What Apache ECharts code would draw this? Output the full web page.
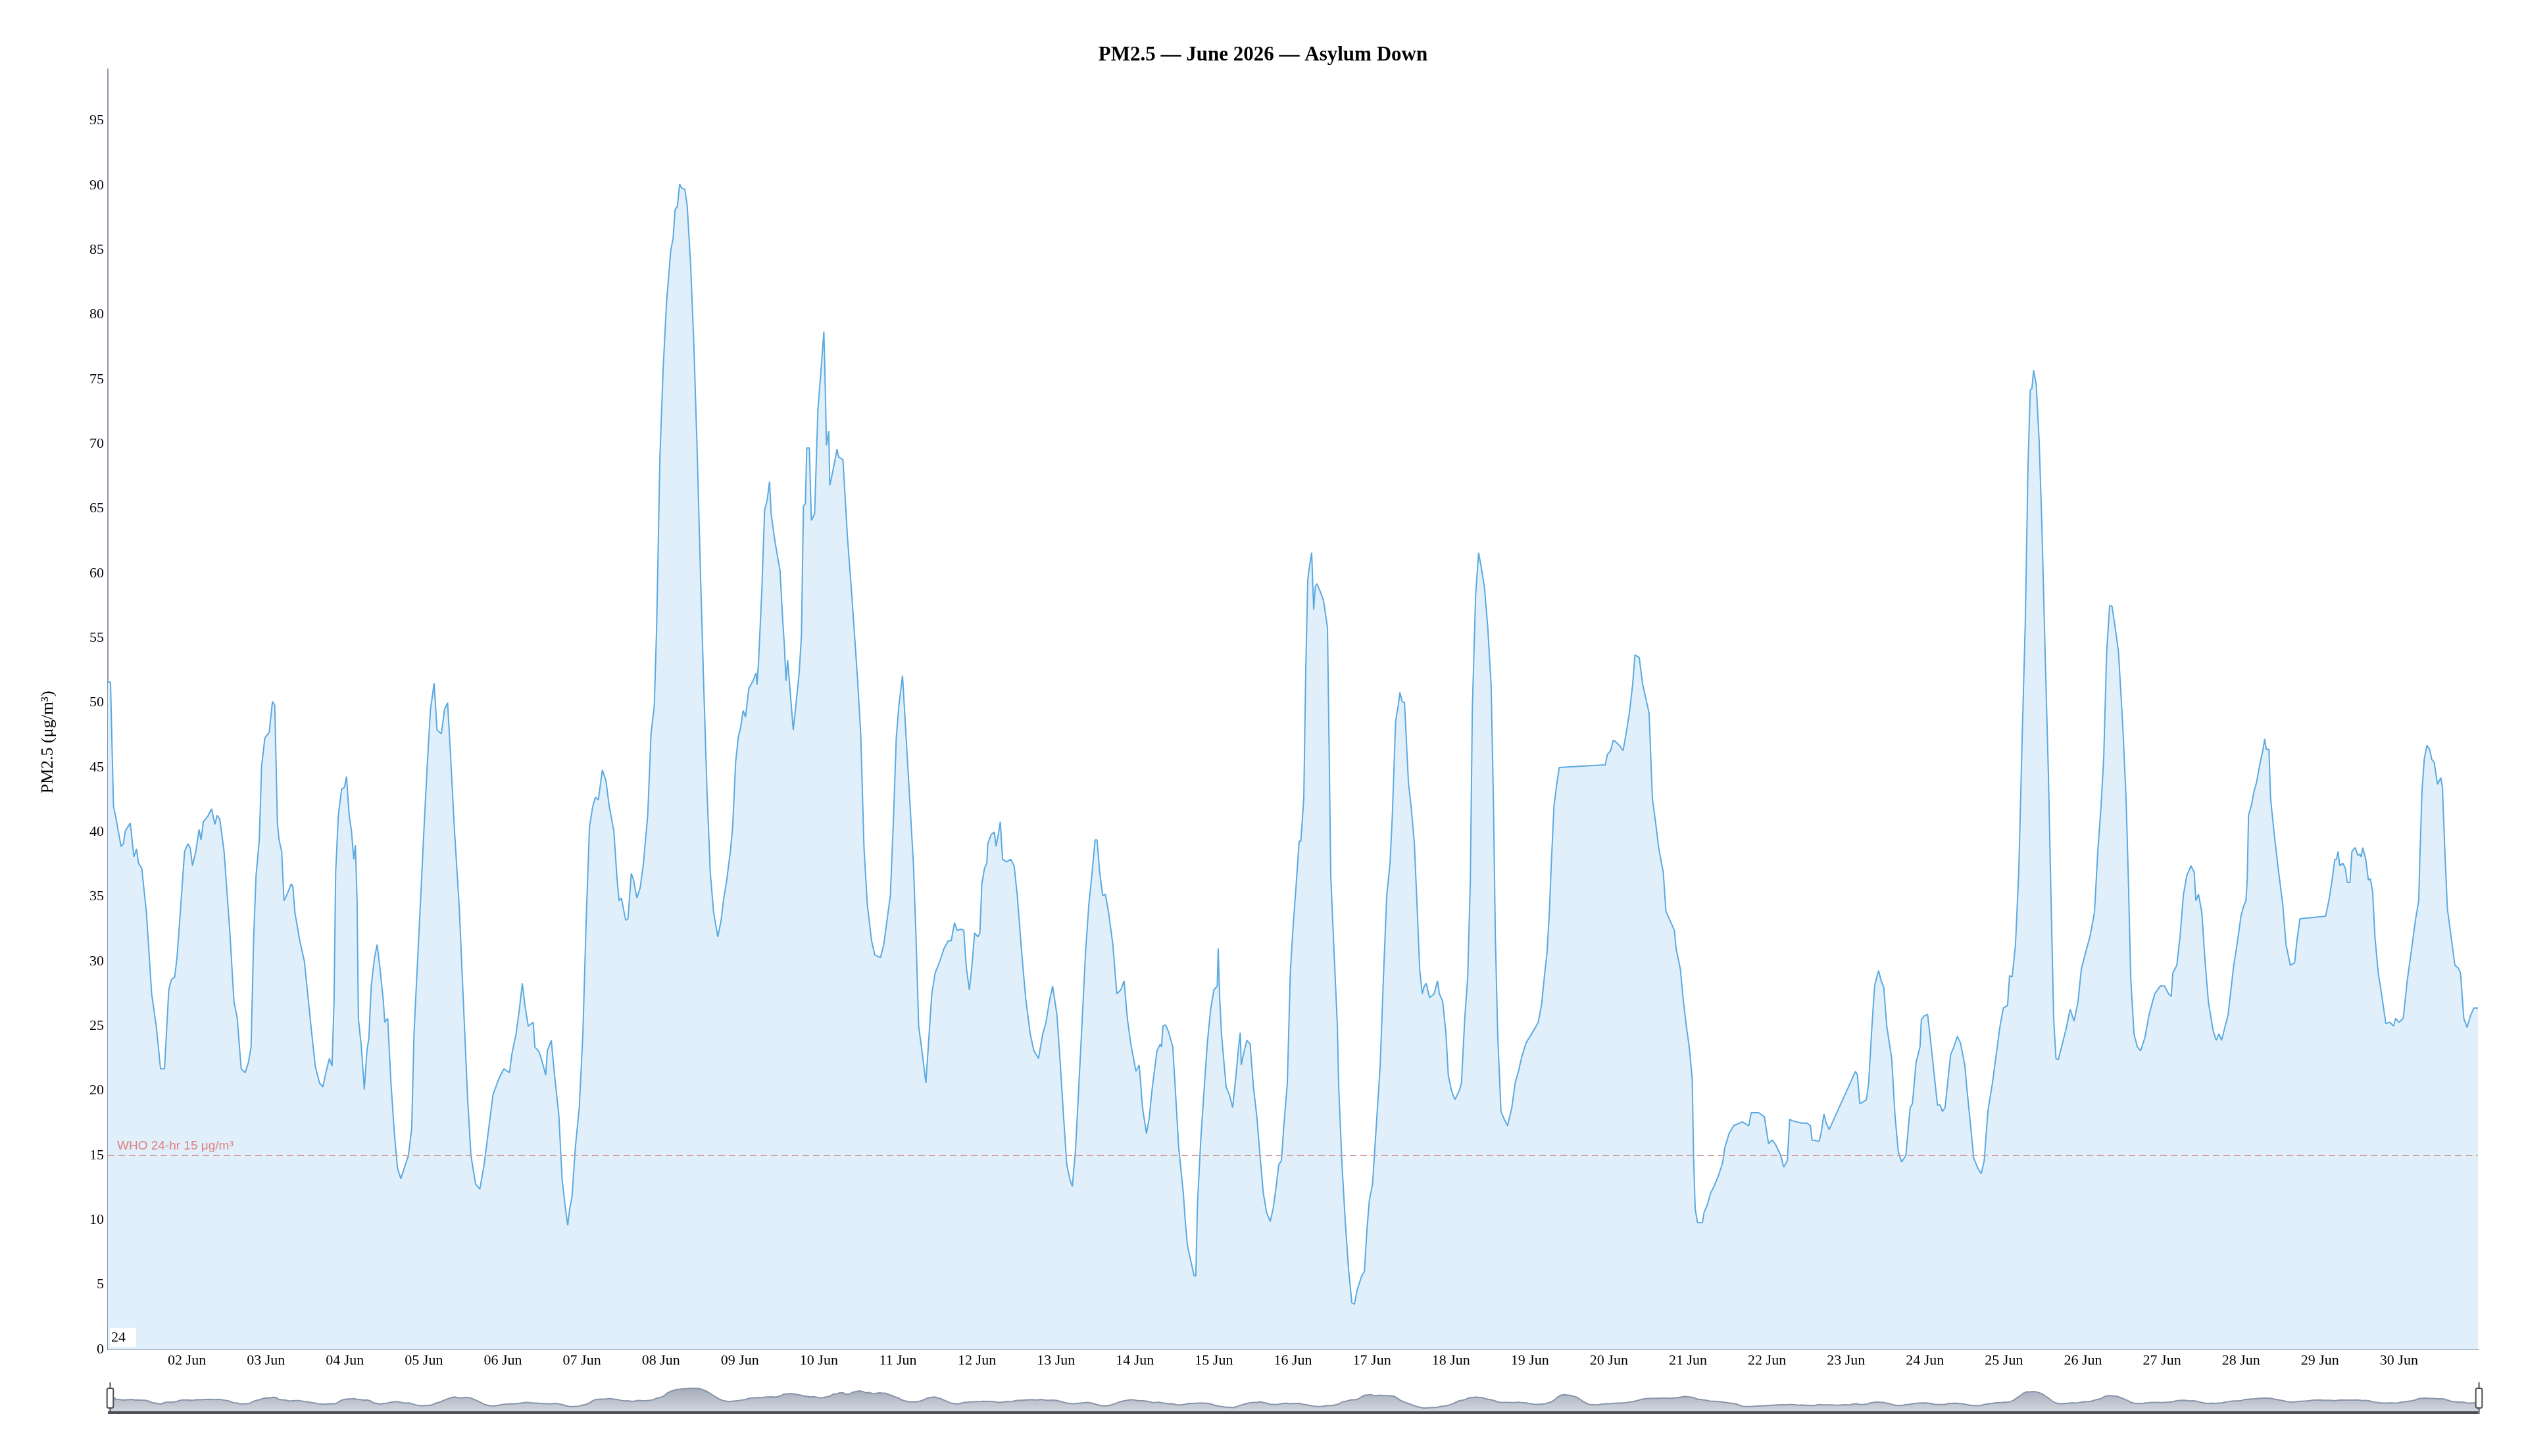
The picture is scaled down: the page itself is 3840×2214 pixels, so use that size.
<!DOCTYPE html>
<html>
<head>
<meta charset="utf-8">
<script src="https://cdn.jsdelivr.net/npm/echarts/dist/echarts.min.js"></script>
<style>html,body{margin:0;padding:0;background:#fff}#chart{width:3840px;height:2214px}</style>
</head>
<body>
<div id="chart"></div>
<script>
// Hour offsets from 01 Jun 00:00 paired with PM2.5 (µg/m³)
const week1 = [[0,51.6],[0.8,51.6],[1.7,42.0],[2.3,41.3],[4,38.9],[4.7,39.1],[5.3,40.1],[6.8,40.7],[7.9,38.1],[8.7,38.7],[9.3,37.6],[10.3,37.2],[11.7,33.8],[13.3,27.5],[14.7,25.0],[16,21.7],[17.2,21.7],[18.5,27.8],[19.3,28.6],[20.3,28.8],[21,30.3],[22,33.8],[23.3,38.5],[24.3,39.1],[25,38.8],[25.7,37.4],[26.7,38.5],[27.7,40.2],[28.3,39.4],[29,40.8],[30.3,41.2],[31.5,41.8],[32.5,40.6],[33.2,41.3],[34,41.0],[35.3,38.5],[36,36.0],[37,32.5],[38.3,26.9],[39.3,25.6],[40.5,21.7],[41.7,21.4],[42.7,22.2],[43.5,23.4],[44.3,31.9],[45,36.6],[46,39.4],[46.7,45.1],[47.7,47.3],[49,47.7],[50,50.1],[50.7,49.8],[51.5,40.7],[52,39.4],[52.8,38.5],[53.5,34.7],[54.3,35.1],[55.7,36.0],[56.2,35.8],[56.8,33.8],[58.3,31.6],[59.7,30.0],[60.7,27.5],[61.7,25.0],[63,21.9],[64.3,20.6],[65.3,20.3],[66.3,21.5],[67.3,22.5],[68.1,21.9],[68.7,26.9],[69.2,36.9],[70,41.3],[71,43.3],[71.9,43.5],[72.5,44.3],[73.3,41.3],[74,40.1],[74.7,37.9],[75.2,39.0],[75.7,34.7],[76.1,25.6],[77,23.4],[77.9,20.1],[78.7,23.1],[79.3,24.1],[80,28.1],[81,30.3],[81.8,31.3],[82.7,29.4],[83.7,26.9],[84.1,25.3],[85,25.6],[86,20.6],[87,16.8],[88,14.0],[89,13.2],[90,14.0],[91.3,15.0],[92.3,17.1],[93,24.4],[93.7,28.1],[94.7,33.2],[96,40.1],[97,45.1],[98,49.5],[99.1,51.5],[100,47.9],[101.3,47.6],[102.3,49.5],[103.2,50.0],[104,46.4],[105.3,40.1],[106.7,34.4],[108,26.9],[109.3,19.3],[110.3,15.0],[111.7,12.8],[113,12.4],[114.3,14.3],[115.7,17.1],[117,19.7],[118.7,20.9],[120.3,21.7],[122,21.4],[122.7,22.8],[124,24.4],[125,26.3],[125.9,28.3],[126.7,26.6],[127.7,25.0],[129.2,25.3],[129.7,23.4],[131,23.0],[132,22.2],[133,21.2],[133.5,23.1],[134.7,23.9],[135.7,21.2],[137,18.1],[138,13.1],[139,10.9],[139.7,9.6],[140.3,10.9],[141,11.8],[142,15.6],[143.2,18.7],[144.3,24.4],[145.3,33.2],[146.3,40.4],[147.3,42.0],[148.1,42.7],[149,42.5],[150.2,44.8],[151.3,44.0],[152.3,42.0],[153.7,40.1],[154.7,36.3],[155.3,34.7],[156,34.9],[157.3,33.2],[158,33.3],[159,36.8],[159.7,36.3],[160.7,34.9],[161.7,35.7],[162.7,37.6],[164,41.3],[165,47.6],[166,49.8],[166.7,55.8]];
const week2 = [[167.7,69.0],[168.7,75.9],[169.7,80.9],[171,85.0],[171.7,85.9],[172.3,88.1],[173,88.4],[173.7,90.1],[174.3,89.8],[175.3,89.7],[176,88.4],[177,84.0],[178,77.8],[179,69.6],[180,60.2],[181,51.4],[182,43.2],[183,36.9],[184,33.8],[185.3,31.9],[186.3,33.2],[187,34.7],[188,36.3],[189.1,38.5],[189.8,40.4],[190.7,45.4],[191.5,47.3],[192.3,48.2],[193,49.4],[193.7,48.9],[194.7,51.1],[196,51.7],[196.9,52.3],[197.2,51.4],[197.7,53.3],[198.7,58.9],[199.5,64.9],[200.3,65.7],[201,67.1],[201.5,64.6],[202.7,62.4],[204.2,60.2],[205,56.4],[205.5,54.5],[206,51.7],[206.5,53.3],[207.3,50.8],[208.2,47.9],[209,49.8],[210,52.3],[210.7,55.2],[211.3,65.2],[211.9,65.4],[212.3,69.7],[213.1,69.7],[213.7,64.1],[214.7,64.6],[215.7,72.7],[216.7,75.9],[217.5,78.7],[217.8,75.9],[218.3,69.9],[219,71.0],[219.3,66.8],[220.3,68.0],[221.5,69.6],[222,69.0],[223.3,68.8],[224.7,62.7],[226,58.3],[227.7,52.0],[228.7,47.6],[229.7,38.8],[230.7,34.4],[232,31.6],[233,30.5],[234.7,30.3],[235.7,31.3],[237.7,35.1],[238.7,41.3],[239.5,47.3],[240.3,49.8],[241.4,52.1],[242.3,48.2],[243.3,43.8],[244.7,37.6],[245.5,31.9],[246.3,25.0],[247.3,23.1],[248.5,20.6],[249.3,23.7],[250.3,27.5],[251.3,29.1],[252.7,30.0],[254,31.0],[255.3,31.6],[256.2,31.6],[257.2,33.0],[258,32.4],[259,32.5],[260,32.4],[260.8,29.5],[261.7,27.8],[262.5,29.7],[263.3,32.2],[264.3,31.9],[264.9,32.2],[265.5,36.0],[266.3,37.2],[267,37.6],[267.3,39.1],[268.3,39.8],[269.3,40.0],[269.8,38.9],[270.5,39.8],[271.1,40.8],[271.8,37.9],[273,37.7],[274.3,37.9],[275.3,37.4],[276.3,35.0],[277.5,31.0],[278.8,27.2],[280.2,24.4],[281.3,23.1],[282.7,22.5],[284,24.4],[285,25.3],[286,26.9],[287,28.1],[288.3,25.9],[289.3,22.2],[290.3,18.1],[291.3,14.3],[292.3,13.1],[293,12.6],[294,15.6],[295,20.6],[296,25.6],[297,30.7],[298,34.4],[299,36.9],[299.9,39.4],[300.5,39.4],[301.3,36.9],[302.2,35.1],[303,35.2],[304,33.8],[305.3,31.3],[306.5,27.5],[307.7,27.8],[308.7,28.5],[309.7,25.6],[310.7,23.7],[312.3,21.5],[313.3,22.0],[314.3,18.7],[315.5,16.7],[316.3,17.8],[317.3,20.3],[318.7,23.1],[319.7,23.6],[320.1,23.4],[320.5,25.0],[321.3,25.1],[322.3,24.5],[323.5,23.4],[324.3,20.0],[325.3,15.6],[326.7,12.1],[327.3,9.9],[328,8.0],[329,6.8],[330,5.7],[330.5,5.7],[331,11.2],[332,16.2],[333,20.0],[334,23.7],[335,26.3]];
const week3 = [[336,27.8],[337,28.1],[337.3,31.0],[337.7,27.5],[338.3,24.4],[339.7,20.3],[340.7,19.7],[341.7,18.7],[342.7,21.2],[343.5,23.4],[344,24.5],[344.3,22.0],[345.2,23.1],[346,23.9],[347,23.6],[348,20.3],[349,18.1],[350,15.0],[351,12.1],[352,10.6],[353.1,9.9],[354,10.9],[355,12.8],[355.7,14.3],[356.5,14.6],[357.3,17.5],[358.3,20.6],[359.2,29.1],[360,32.5],[361,36.0],[361.9,39.3],[362.4,39.3],[363.3,42.6],[363.9,52.6],[364.5,59.5],[365.1,60.7],[365.7,61.6],[366.3,57.2],[366.8,59.0],[367.3,59.2],[368.3,58.6],[369.3,57.9],[370,56.7],[370.5,55.8],[371,46.4],[371.5,36.6],[372.5,30.7],[373.5,25.0],[373.9,20.3],[374.9,14.3],[375.9,9.9],[376.9,6.2],[377.9,3.6],[378.7,3.5],[379.5,4.6],[380.9,5.7],[381.7,6.0],[382.5,9.3],[383.2,11.5],[384.2,12.8],[385.2,16.8],[386.5,21.9],[387.5,28.8],[388.5,35.1],[389.5,37.6],[390.2,41.3],[391.2,48.6],[392,49.8],[392.5,50.8],[393.2,50.1],[393.9,50.0],[395.1,43.8],[395.9,42.0],[396.9,39.1],[397.7,34.4],[398.5,29.4],[399.3,27.5],[399.9,28.1],[400.5,28.3],[401.5,27.2],[402.9,27.5],[403.9,28.5],[404.5,27.5],[405.5,26.9],[406.5,24.4],[407.2,21.2],[408.2,20.0],[409.2,19.3],[410.5,20.0],[411.2,20.6],[412.2,25.6],[413.1,28.8],[413.9,36.3],[414.5,49.5],[415.5,58.3],[416.4,61.6],[417.2,60.5],[418.2,58.9],[419.2,55.8],[420.2,51.4],[420.9,42.6],[421.5,31.9],[422.2,24.4],[423.2,18.4],[424.2,17.8],[425.2,17.3],[426.5,18.7],[427.5,20.6],[428.5,21.5],[429.5,22.6],[430.8,23.7],[432.5,24.4],[433.9,25.0],[434.5,25.3],[435.5,26.6],[436.5,29.1],[437.2,30.7],[437.9,33.8],[438.5,37.6],[439.3,42.0],[440.2,43.8],[440.9,45.0],[454.9,45.2],[455.5,46.0],[456.5,46.3],[457.3,47.1],[458,47.0],[459.2,46.7],[460.3,46.3],[461.2,47.6],[462.2,49.2],[463.2,51.4],[463.9,53.7],[465.2,53.5],[466.2,51.5],[468.2,49.2],[469.2,42.6],[470.2,40.7],[471.1,38.8],[472.5,36.9],[473.3,33.9],[474.5,33.2],[475.9,32.4],[476.4,31.0],[477.7,29.4],[478.5,27.2],[479.5,25.0],[480.4,23.4],[481.3,20.9],[481.7,15.0],[482.2,10.9],[482.9,9.8],[484.4,9.8],[484.9,10.6],[485.9,11.2],[486.9,12.1],[487.9,12.6],[489.2,13.4],[490.5,14.4],[491.2,15.6],[492.5,16.7],[493.9,17.3],[496.5,17.6],[498.5,17.3],[499.2,18.3],[501.5,18.3],[503.2,18.0]];
const week4 = [[504.5,15.9],[505.5,16.2],[506.5,15.9],[508.2,15.0],[509.1,14.1],[510.2,14.6],[510.9,17.8],[511.5,17.7],[514.5,17.5],[516.2,17.5],[517.2,17.3],[517.7,16.2],[519.9,16.1],[520.5,16.8],[521.3,18.2],[522,17.5],[522.9,17.0],[530.9,21.5],[531.5,21.2],[532.2,19.0],[534.2,19.3],[534.9,20.6],[535.9,25.0],[536.7,28.1],[537.9,29.3],[538.7,28.5],[539.5,28.0],[540.4,25.0],[541.9,22.5],[542.9,18.1],[543.9,15.3],[544.9,14.5],[546.2,15.0],[547.5,18.7],[548.2,19.0],[549.3,22.2],[550.5,23.4],[550.9,25.5],[551.8,25.8],[552.8,25.9],[553.5,24.4],[554.5,22.0],[555.8,18.9],[556.6,18.9],[557.3,18.4],[558.1,18.7],[559.8,22.8],[560.8,23.4],[561.8,24.2],[562.8,23.7],[564.1,22.0],[564.8,20.0],[565.8,17.5],[566.8,14.8],[568.1,14.0],[569.1,13.6],[570,14.6],[571.1,18.4],[572.5,20.6],[573.8,23.1],[574.8,25.0],[575.8,26.4],[577.1,26.6],[577.7,28.9],[578.5,28.8],[579.5,31.3],[580.5,36.9],[581.5,47.0],[582.5,56.4],[583.3,68.3],[584,74.2],[584.5,74.3],[585,75.7],[585.8,74.6],[586.7,70.2],[587.5,63.9],[588.5,53.9],[589.5,44.5],[590.5,32.5],[591.1,25.6],[591.8,22.5],[592.5,22.4],[593.5,23.4],[594.8,24.7],[596.1,26.3],[597.3,25.4],[598.5,26.9],[599.5,29.4],[600.8,30.7],[602.1,31.9],[603.5,33.8],[604.5,38.5],[605.5,42.0],[606.3,45.7],[607.2,53.9],[608.1,57.5],[608.8,57.5],[609.8,55.8],[610.8,53.9],[612.1,48.2],[613.1,42.6],[613.8,36.3],[614.5,28.8],[615.5,24.4],[616.5,23.4],[617.5,23.1],[618.8,24.1],[620.1,25.9],[621.8,27.5],[623.5,28.1],[624.8,28.1],[626,27.5],[626.8,27.3],[627.3,29.1],[628.5,29.7],[629.5,31.9],[630.5,35.1],[631.5,36.6],[632.8,37.4],[633.8,36.9],[634.3,34.7],[635.1,35.2],[636.1,33.8],[637.1,30.0],[638.1,26.9],[639.5,24.7],[640.5,23.9],[641.3,24.4],[642.1,23.9],[643.1,24.9],[644.1,25.9],[645.8,29.7],[646.8,31.3],[648,33.5],[648.7,34.2],[649.5,34.7],[649.9,36.3],[650.3,41.3],[651.2,42.1],[652,43.2],[652.7,43.8],[653.7,45.2],[654.7,46.4],[655.2,47.2],[655.7,46.4],[656.5,46.4],[657,42.6],[658,40.1],[659.3,37.2],[660.7,34.4],[661.7,31.3],[663,29.7],[664.3,29.9],[665,31.6],[665.9,33.3]];
const week5 = [[673.7,33.5],[674.7,34.7],[675.7,36.3],[676.5,37.9],[677,37.9],[677.5,38.5],[678,37.4],[679,37.6],[679.7,37.2],[680.3,36.1],[681.1,36.1],[681.7,38.5],[682.7,38.8],[683.5,38.2],[684.1,38.3],[684.5,38.1],[685,38.8],[685.9,37.9],[686.7,36.3],[687.3,36.4],[688,35.4],[688.7,31.9],[689.7,29.1],[690.7,27.5],[692,25.2],[693.3,25.3],[694.3,25.0],[695,25.6],[696,25.3],[697.3,25.6],[698.5,28.5],[699.7,30.7],[701,33.2],[702,34.7],[702.3,37.6],[703,43.2],[703.7,45.7],[704.5,46.7],[705.3,46.4],[706,45.6],[706.7,45.4],[707.7,43.7],[708.7,44.2],[709.2,43.5],[709.9,38.8],[710.7,34.1],[712,31.6],[713,29.7],[714,29.5],[714.7,29.1],[715.7,25.6],[716.7,24.9],[717.7,25.8],[718.7,26.4],[720,26.4]];

const dayLabels = ['02 Jun','03 Jun','04 Jun','05 Jun','06 Jun','07 Jun','08 Jun','09 Jun','10 Jun','11 Jun','12 Jun','13 Jun','14 Jun','15 Jun','16 Jun','17 Jun','18 Jun','19 Jun','20 Jun','21 Jun','22 Jun','23 Jun','24 Jun','25 Jun','26 Jun','27 Jun','28 Jun','29 Jun','30 Jun'];
const whoLimit = 15;
const whoLabel = 'WHO 24-hr 15 μg/m³';

const serif = '"Liberation Serif", "Times New Roman", serif';
const series = week1.concat(week2, week3, week4, week5);
const shadowArea = new echarts.graphic.LinearGradient(0, 0, 0, 1, [
  { offset: 0, color: '#d6dae2' }, { offset: 1, color: '#a4acba' }
]);

const chart = echarts.init(document.getElementById('chart'));
chart.setOption({
  backgroundColor: '#fff',
  animation: false,
  title: {
    text: 'PM2.5 — June 2026 — Asylum Down',
    left: 'center', top: 63,
    textStyle: { fontFamily: serif, fontWeight: 'bold', fontSize: 31, color: '#000' }
  },
  grid: { left: 164, right: 73, top: 105, bottom: 162 },
  xAxis: {
    type: 'value', min: 0, max: 720, interval: 24,
    splitLine: { show: false },
    axisLine: { lineStyle: { color: '#8c96a6', width: 2 } },
    axisTick: { show: false },
    axisLabel: {
      showMinLabel: false, showMaxLabel: false,
      formatter: v => dayLabels[v / 24 - 1] || '',
      fontFamily: serif, fontSize: 22, color: '#000', margin: 6
    }
  },
  yAxis: {
    type: 'value', min: 0, max: 99, interval: 5,
    name: 'PM2.5 (μg/m³)', nameLocation: 'middle', nameGap: 78,
    nameTextStyle: { fontFamily: serif, fontSize: 26, color: '#000', padding: [0, 100, 0, 0] },
    axisLine: { show: true, lineStyle: { color: '#8c96a6', width: 2 } },
    axisTick: { show: false },
    splitLine: { show: false },
    axisLabel: { showMaxLabel: false, fontFamily: serif, fontSize: 22, color: '#000', margin: 6 }
  },
  dataZoom: [{
    type: 'slider', xAxisIndex: 0, start: 0, end: 100,
    left: 164, right: 73, bottom: 64, height: 48,
    backgroundColor: 'rgba(0,0,0,0)',
    borderColor: 'rgba(0,0,0,0)',
    fillerColor: 'rgba(0,0,0,0)',
    moveHandleSize: 0,
    showDetail: false,
    handleIcon: 'path://M-9.35,34.56V42m0-40V9.5m-2,0h4a2,2,0,0,1,2,2v21a2,2,0,0,1-2,2h-4a2,2,0,0,1-2-2v-21A2,2,0,0,1-11.35,9.5Z',
    handleSize: '100%',
    handleStyle: { color: '#fff', borderColor: '#4a4f57', borderWidth: 2 },
    dataBackground: { lineStyle: { color: '#8894a8', width: 2 }, areaStyle: { color: shadowArea, opacity: 1 } },
    selectedDataBackground: { lineStyle: { color: '#8894a8', width: 2 }, areaStyle: { color: shadowArea, opacity: 1 } }
  }],
  series: [{
    type: 'line',
    data: series,
    showSymbol: false,
    lineStyle: { color: '#5aaae0', width: 2 },
    itemStyle: { color: '#5aaae0' },
    areaStyle: { color: '#e1effa', opacity: 1 },
    markLine: {
      silent: true, symbol: 'none',
      lineStyle: { color: '#d4a0a0', type: [10, 6], width: 2 },
      label: { formatter: whoLabel, position: 'insideStartTop', distance: [14, 5], color: '#dd8080', fontSize: 19, fontFamily: '"Liberation Sans", Arial, sans-serif' },
      data: [{ yAxis: whoLimit }]
    }
  }],
  graphic: [{
    type: 'text', left: 167, top: 2019, z: 100,
    style: { text: '24', font: '22px "Liberation Serif"', fill: '#000', backgroundColor: '#fff', padding: [4, 16, 3, 2] }
  }, {
    type: 'rect', left: 164, top: 2146, z: 100,
    shape: { width: 3603, height: 4 },
    style: { fill: '#4a4f57' }
  }]
});
</script>
</body>
</html>
